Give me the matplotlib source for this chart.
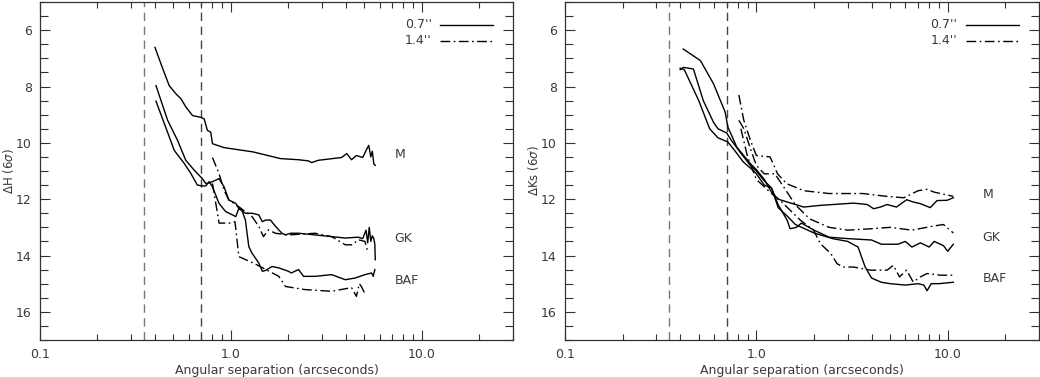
import matplotlib
matplotlib.use("Agg")
import matplotlib.pyplot as plt
from matplotlib.ticker import FixedLocator, NullFormatter, MultipleLocator

plt.rcParams['font.family'] = ['DejaVu Sans']

# ---------------- data : left panel (Delta H) ----------------
h_m_07_x = [0.40, 0.44, 0.475, 0.515, 0.548, 0.581, 0.629, 0.70, 0.724, 0.753, 0.784, 0.80, 0.92, 1.3, 1.82,
            2.26, 2.54, 2.65, 2.87, 3.8, 4.04, 4.28, 4.54, 4.9, 5.1, 5.27, 5.4, 5.5, 5.6, 5.7]
h_m_07_y = [6.61, 7.38, 7.97, 8.26, 8.44, 8.73, 9.03, 9.10, 9.15, 9.56, 9.62, 10.03, 10.17, 10.32, 10.56,
            10.6, 10.64, 10.70, 10.62, 10.52, 10.38, 10.6, 10.45, 10.52, 10.27, 10.09, 10.5, 10.3, 10.75, 10.8]

h_gk_07_x = [0.405, 0.466, 0.525, 0.58, 0.642, 0.708, 0.74, 0.80, 0.866, 0.92, 0.975, 1.06, 1.10, 1.19, 1.29,
             1.40, 1.46, 1.52, 1.61, 1.68, 1.78, 1.85, 1.93, 2.05, 2.26, 2.76, 3.37, 3.97, 4.64, 4.9, 5.1,
             5.2, 5.3, 5.4, 5.5, 5.6, 5.67, 5.7]
h_gk_07_y = [7.97, 9.2, 9.91, 10.62, 10.97, 11.27, 11.45, 11.38, 11.27, 11.56, 12.03, 12.15, 12.33, 12.5, 12.5,
             12.56, 12.8, 12.74, 12.74, 12.9, 13.09, 13.21, 13.27, 13.21, 13.21, 13.27, 13.33, 13.38, 13.35, 13.4,
             13.1, 13.55, 13.0, 13.5, 13.3, 13.4, 13.6, 14.15]

h_baf_07_x = [0.405, 0.448, 0.505, 0.569, 0.617, 0.667, 0.708, 0.738, 0.768, 0.80, 0.866, 0.938, 1.02, 1.06,
              1.10, 1.14, 1.19, 1.24, 1.29, 1.40, 1.46, 1.52, 1.64, 1.78, 2.0, 2.07, 2.26, 2.4, 2.76, 3.37,
              3.97, 4.47, 5.03, 5.45, 5.56, 5.67]
h_baf_07_y = [8.52, 9.32, 10.27, 10.73, 11.09, 11.5, 11.53, 11.53, 11.38, 11.56, 12.15, 12.44, 12.56, 12.62,
              12.33, 12.39, 12.74, 13.68, 13.92, 14.27, 14.56, 14.53, 14.39, 14.44, 14.56, 14.62, 14.5, 14.74,
              14.74, 14.68, 14.86, 14.8, 14.68, 14.62, 14.74, 14.5]

h_gk_14_x = [0.80, 0.866, 0.92, 0.975, 1.10, 1.29, 1.40, 1.48, 1.57, 1.71, 2.0, 2.76, 3.37, 3.97, 4.32, 4.64,
             5.03, 5.23]
h_gk_14_y = [10.52, 11.09, 11.68, 12.03, 12.27, 12.62, 12.97, 13.33, 13.09, 13.21, 13.27, 13.21, 13.33, 13.62,
             13.62, 13.44, 13.5, 13.92]

h_baf_14_x = [0.80, 0.867, 0.99, 1.05, 1.10, 1.34, 1.78, 1.93, 2.44, 3.36, 4.28, 4.54, 4.7, 4.82, 5.0]
h_baf_14_y = [11.44, 12.85, 12.85, 12.8, 14.04, 14.3, 14.74, 15.1, 15.21, 15.27, 15.14, 15.45, 15.0, 15.1, 15.32]

# ---------------- data : right panel (Delta Ks) ----------------
k_m_07_x = [0.415, 0.51, 0.597, 0.687, 0.71, 0.79, 0.93, 1.0, 1.1, 1.2, 1.3, 1.45, 1.77, 2.16, 3.22, 3.8, 4.1,
            4.45, 4.82, 5.4, 6.1, 6.6, 7.2, 8.1, 8.8, 9.93, 10.7]
k_m_07_y = [6.67, 7.08, 7.9, 8.91, 9.44, 10.15, 10.74, 10.95, 11.3, 11.75, 12.0, 12.1, 12.28, 12.22, 12.14,
            12.19, 12.34, 12.28, 12.19, 12.28, 12.02, 12.1, 12.16, 12.3, 12.05, 12.04, 11.95]

k_gk_07_x = [0.40, 0.416, 0.469, 0.528, 0.597, 0.63, 0.70, 0.74, 0.82, 0.93, 1.0, 1.1, 1.2, 1.3, 1.45, 1.5,
             1.62, 1.72, 2.0, 2.4, 3.0, 4.0, 4.5, 5.5, 6.0, 6.5, 7.2, 8.0, 8.5, 9.5, 10.0, 10.7]
k_gk_07_y = [7.4, 7.32, 7.38, 8.5, 9.27, 9.5, 9.65, 9.91, 10.32, 10.8, 11.0, 11.35, 11.6, 12.2, 12.75, 13.05,
             13.0, 12.85, 13.1, 13.35, 13.4, 13.45, 13.6, 13.6, 13.5, 13.7, 13.55, 13.7, 13.5, 13.65, 13.85, 13.6]

k_baf_07_x = [0.40, 0.42, 0.50, 0.57, 0.63, 0.71, 0.77, 0.855, 0.95, 1.0, 1.1, 1.2, 1.3, 1.45, 1.6, 2.0, 2.5,
              3.0, 3.4, 3.7, 4.0, 4.5, 5.0, 6.0, 7.0, 7.5, 7.8, 8.2, 9.0, 10.7]
k_baf_07_y = [7.35, 7.4, 8.5, 9.5, 9.82, 9.97, 10.27, 10.68, 10.95, 11.1, 11.5, 11.6, 12.3, 12.6, 12.9, 13.2,
              13.4, 13.5, 13.7, 14.4, 14.8, 14.95, 15.0, 15.05, 15.0, 15.05, 15.25, 15.0, 15.0, 14.95]

k_m_14_x = [0.81, 0.86, 0.93, 1.0, 1.18, 1.29, 1.44, 1.77, 2.4, 3.6, 4.8, 5.9, 7.0, 7.8, 8.5, 10.7]
k_m_14_y = [8.3, 9.2, 9.9, 10.45, 10.5, 11.1, 11.45, 11.7, 11.8, 11.8, 11.9, 11.95, 11.7, 11.65, 11.75, 11.9]

k_gk_14_x = [0.81, 0.86, 0.93, 1.0, 1.1, 1.25, 1.4, 1.6, 1.9, 2.4, 3.0, 4.0, 5.0, 6.5, 8.5, 9.5, 10.7]
k_gk_14_y = [9.2, 9.5, 10.2, 10.8, 11.1, 11.1, 11.6, 12.2, 12.7, 13.0, 13.1, 13.05, 13.0, 13.1, 12.95, 12.9, 13.2]

k_baf_14_x = [0.83, 0.9, 1.0, 1.2, 1.33, 1.7, 1.99, 2.16, 2.45, 2.64, 2.84, 3.22, 3.94, 4.82, 5.2, 5.6, 6.1,
              6.6, 7.2, 7.8, 9.2, 10.7]
k_baf_14_y = [9.5, 10.5, 11.3, 11.8, 12.04, 12.75, 13.1, 13.58, 13.93, 14.29, 14.41, 14.41, 14.52, 14.52, 14.35,
              14.76, 14.52, 14.94, 14.76, 14.64, 14.7, 14.7]

seeing_lines = [0.35, 0.7]
class_labels = ["M", "GK", "BAF"]
h_label_y = [10.4, 13.4, 14.9]
k_label_y = [11.85, 13.35, 14.83]
legend_labels = ["0.7''", "1.4''"]

# ---------------- plotting ----------------
W, H = 1040, 377
fig = plt.figure(figsize=(W / 100, H / 100), dpi=100)
TXT = '#3a3a3a'
LW = 1.0
dashdot = (0, (7, 2.5, 1.2, 2.5))


def setup(ax, ylabel):
    ax.set_xscale('log')
    ax.set_xlim(0.1, 30)
    ax.set_ylim(17, 5)
    ax.xaxis.set_major_locator(FixedLocator([0.1, 1.0, 10.0]))
    ax.set_xticklabels(['0.1', '1.0', '10.0'])
    ax.xaxis.set_minor_locator(FixedLocator([m * d for d in (0.1, 1, 10) for m in range(2, 10)]))
    ax.xaxis.set_minor_formatter(NullFormatter())
    ax.yaxis.set_major_locator(MultipleLocator(2))
    ax.yaxis.set_minor_locator(MultipleLocator(0.5))
    ax.tick_params(which='both', direction='in', top=True, right=True, colors='#333333',
                   labelcolor=TXT, labelsize=9, width=0.8)
    ax.tick_params(which='major', length=7, pad=6)
    ax.tick_params(which='minor', length=4)
    ax.tick_params(axis='y', which='minor', length=6)
    for s in ax.spines.values():
        s.set_linewidth(0.9)
        s.set_color('#333333')
    ax.set_xlabel('Angular separation (arcseconds)', fontsize=9, color=TXT, labelpad=2)
    ax.set_ylabel(ylabel, fontsize=8.5, color=TXT)
    ax.yaxis.set_label_coords(-0.05, 0.5)
    for xv, c in zip(seeing_lines, ['#777777', '#444444']):
        ax.axvline(xv, color=c, lw=1.0, ls=(0, (6, 4)))
    # legend (drawn as text + line samples)
    for i, (lab, ls) in enumerate(zip(legend_labels, ['-', dashdot])):
        yy = 0.932 - i * 0.046
        ax.text(0.828, yy, lab, transform=ax.transAxes, ha='right', va='center', fontsize=9, color=TXT)
        ax.plot([0.845, 0.957], [yy, yy], transform=ax.transAxes, color='black', lw=LW, ls=ls)


axL = fig.add_axes([40 / W, 1 - 340 / H, 473 / W, 338 / H])
axR = fig.add_axes([565 / W, 1 - 340 / H, 474 / W, 338 / H])
setup(axL, r'$\Delta$H (6$\sigma$)')
setup(axR, r'$\Delta$Ks (6$\sigma$)')

for xs, ys in [(h_m_07_x, h_m_07_y), (h_gk_07_x, h_gk_07_y), (h_baf_07_x, h_baf_07_y)]:
    axL.plot(xs, ys, color='black', lw=LW)
for xs, ys in [(h_gk_14_x, h_gk_14_y), (h_baf_14_x, h_baf_14_y)]:
    axL.plot(xs, ys, color='black', lw=LW, ls=dashdot)

for xs, ys in [(k_m_07_x, k_m_07_y), (k_gk_07_x, k_gk_07_y), (k_baf_07_x, k_baf_07_y)]:
    axR.plot(xs, ys, color='black', lw=LW)
for xs, ys in [(k_m_14_x, k_m_14_y), (k_gk_14_x, k_gk_14_y), (k_baf_14_x, k_baf_14_y)]:
    axR.plot(xs, ys, color='black', lw=LW, ls=dashdot)

for lab, yv in zip(class_labels, h_label_y):
    axL.text(7.2, yv, lab, ha='left', va='center', fontsize=9, color=TXT)
for lab, yv in zip(class_labels, k_label_y):
    axR.text(15.2, yv, lab, ha='left', va='center', fontsize=9, color=TXT)

fig.savefig('out.png', dpi=100)
